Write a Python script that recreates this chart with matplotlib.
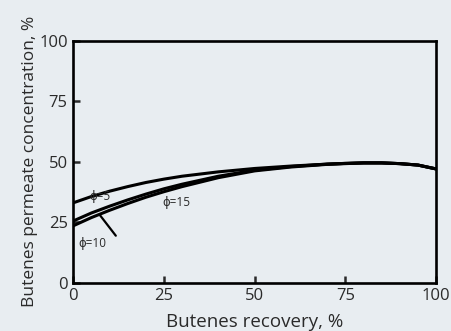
import matplotlib
matplotlib.use("Agg")
import matplotlib.pyplot as plt

plt.rcParams['font.family'] = ['Open Sans', 'DejaVu Sans']

recovery = [0, 5, 10, 15, 20, 25, 30, 40, 50, 60, 70, 75, 80, 85, 90, 95, 100]
phi5 = [33.0, 35.6, 37.8, 39.7, 41.4, 42.8, 44.0, 45.8, 47.2, 48.2, 49.0, 49.3, 49.5, 49.5, 49.2, 48.6, 47.0]
phi10 = [25.5, 28.8, 31.6, 34.2, 36.6, 38.8, 40.7, 44.0, 46.5, 48.0, 49.0, 49.3, 49.5, 49.5, 49.2, 48.6, 47.0]
phi15 = [23.5, 26.9, 29.9, 32.7, 35.3, 37.6, 39.7, 43.4, 46.2, 47.8, 48.9, 49.2, 49.5, 49.5, 49.2, 48.6, 47.0]
ticks = [0, 25, 50, 75, 100]

bg = '#e8edf1'
txt = '#2a2a2a'
fig = plt.figure(figsize=(4.52, 3.31), dpi=100, facecolor=bg)
ax = fig.add_axes([0.162, 0.146, 0.803, 0.731], facecolor=bg)

for y in (phi5, phi10, phi15):
    ax.plot(recovery, y, color='black', lw=2.2, solid_capstyle='butt')

ax.set_xlim(0, 100)
ax.set_ylim(0, 100)
ax.set_xticks(ticks)
ax.set_yticks(ticks)
ax.tick_params(direction='in', length=5, width=1.8, labelsize=12, colors=txt, pad=4)
for s in ax.spines.values():
    s.set_linewidth(1.9)

ax.set_xlabel('Butenes recovery, %', fontsize=13.5, color=txt, labelpad=6)
ax.set_ylabel('Butenes permeate concentration, %', fontsize=12.5, color=txt, labelpad=1)

ax.text(4.5, 35.5, 'ϕ=5', fontsize=8.5, color=txt, va='center')
ax.text(24.5, 33.0, 'ϕ=15', fontsize=8.5, color=txt, va='center')
ax.text(1.5, 16.3, 'ϕ=10', fontsize=8.5, color=txt, va='center')
ax.annotate('', xy=(6.9, 28.8), xytext=(12.2, 18.5),
            arrowprops=dict(arrowstyle='-', color='black', lw=1.6))

fig.savefig('out.png', dpi=100, facecolor=bg)
